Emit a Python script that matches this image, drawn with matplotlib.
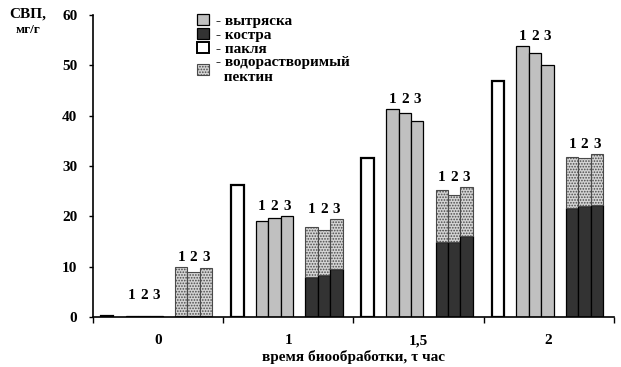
import numpy as np
import matplotlib
matplotlib.use('Agg')
import matplotlib.pyplot as plt
from matplotlib.patches import Patch

# данные (мг/г)
groups = ['0', '1', '1,5', '2']
paklya = [0.2, 26.2, 31.5, 46.9]
vytryaska = [[0.2, 0.2, 0.2], [19.1, 19.6, 20.1], [41.3, 40.5, 39.0], [53.9, 52.4, 50.1]]
kostra = [[0.2, 0.2, 0.2], [8.0, 8.3, 9.5], [15.0, 15.0, 16.0], [21.6, 22.1, 22.3]]
pektin = [[9.7, 8.8, 9.6], [9.8, 9.0, 10.0], [10.2, 9.3, 9.9], [10.1, 9.4, 10.1]]
nums = ['1', '2', '3']

plt.rcParams['font.family'] = ['Liberation Serif', 'DejaVu Serif']
plt.rcParams['font.weight'] = 'bold'
plt.rcParams['axes.labelweight'] = 'bold'
plt.rcParams['hatch.linewidth'] = 0.8

fig = plt.figure(figsize=(6.21, 3.67), dpi=100)
ax = fig.add_axes([0.1493, 0.1362, 0.8391, 0.8229])

w = 0.095
x = np.arange(len(groups))
vy = np.array(vytryaska)
ko = np.array(kostra)
pe = np.array(pektin)

ax.bar(x - 0.39, paklya, w, color='white', edgecolor='black', linewidth=1.6)
for k in range(3):
    ax.bar(x - 0.20 + k * w, vy[:, k], w, color='#c0c0c0', edgecolor='black', linewidth=0.9)
    ax.bar(x + 0.18 + k * w, ko[:, k], w, color='#333333', edgecolor='black', linewidth=0.9)
    ax.bar(x + 0.18 + k * w, pe[:, k], w, bottom=ko[:, k], color='#d4d4d4',
           edgecolor='#4a4a4a', hatch='......', linewidth=0.8)

# подписи 1 2 3 над тройками столбцов
for i in range(len(groups)):
    top_v = max(vy[i].max(), 2.3) + 0.6
    top_s = (ko[i] + pe[i]).max() + 0.6
    for k in range(3):
        ax.text(x[i] - 0.20 + k * w, top_v, nums[k], ha='center', va='bottom', fontsize=11)
        ax.text(x[i] + 0.18 + k * w, top_s, nums[k], ha='center', va='bottom', fontsize=11)

ax.set_xlim(-0.5, 3.5)
ax.set_ylim(0, 60)
ax.set_yticks(range(0, 61, 10))
ax.set_xticks(np.arange(-0.5, 4, 1))
ax.set_xticklabels([])
ax.set_xticks(x, minor=True)
ax.set_xticklabels(groups, minor=True)
ax.tick_params(axis='x', which='major', length=4, width=1, direction='out')
ax.tick_params(axis='x', which='minor', length=0, pad=12.5, labelsize=11)
ax.tick_params(axis='y', length=3, width=1, pad=8, labelsize=11)
for s in ['top', 'right']:
    ax.spines[s].set_visible(False)
for s in ['left', 'bottom']:
    ax.spines[s].set_linewidth(1.2)

ax.set_xlabel('время биообработки, \u03c4 час', fontsize=11, fontweight='bold', labelpad=2)
fig.text(0.045, 0.962, 'СВП,', fontsize=11, ha='center', va='center')
fig.text(0.045, 0.918, 'мг/г', fontsize=9.5, ha='center', va='center')

handles = [Patch(facecolor='#c0c0c0', edgecolor='black', linewidth=0.9),
           Patch(facecolor='#333333', edgecolor='black', linewidth=0.9),
           Patch(facecolor='white', edgecolor='black', linewidth=1.4),
           Patch(facecolor='#d4d4d4', edgecolor='#4a4a4a', hatch='......', linewidth=0.8)]
labels = ['- вытряска', '- костра', '- пакля', '- водорастворимый\n  пектин']
fig.legend(handles, labels, loc='upper left', bbox_to_anchor=(0.305, 0.982),
           frameon=False, prop={'size': 11, 'weight': 'bold'},
           handlelength=0.75, handleheight=0.75,
           handletextpad=0.5, labelspacing=0.0, borderpad=0)

fig.savefig('out.png', dpi=100)
plt.close(fig)
